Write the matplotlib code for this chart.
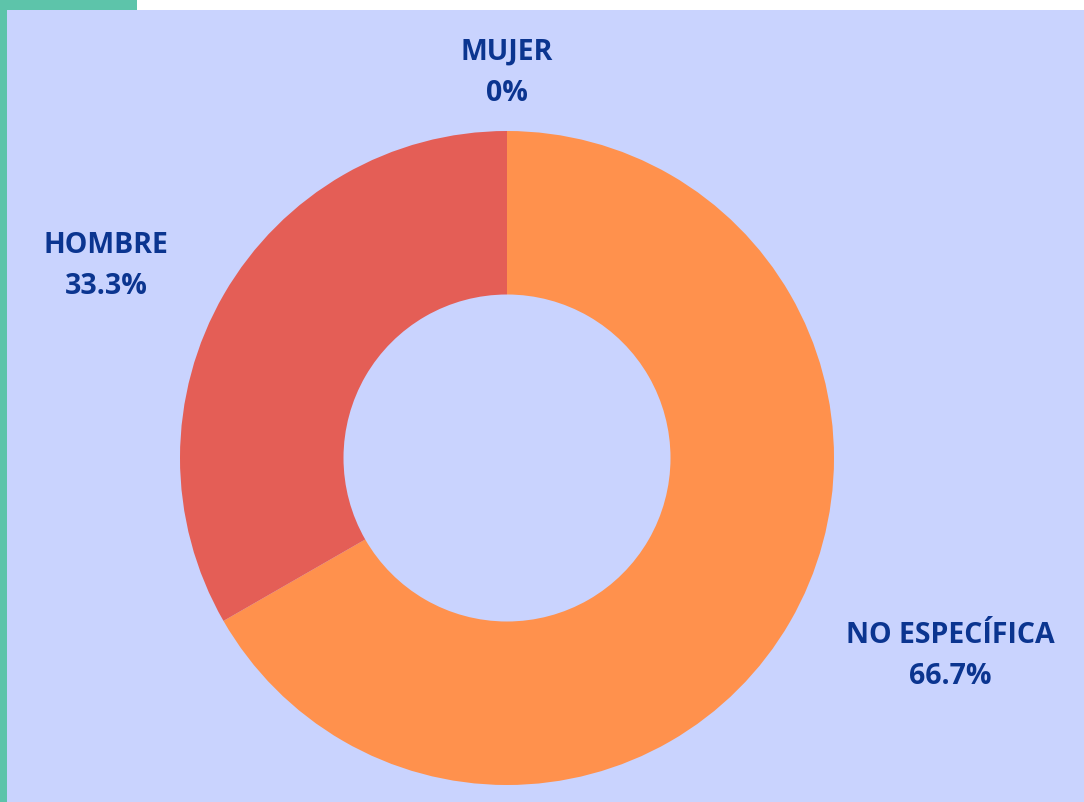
import matplotlib
matplotlib.use("Agg")
import matplotlib.pyplot as plt
from matplotlib.patches import Rectangle

categories = ["NO ESPECÍFICA", "HOMBRE", "MUJER"]
values = [66.7, 33.3, 0.0]
pct_labels = ["66.7%", "33.3%", "0%"]
colors = ["#FF914D", "#E45E56", "#E45E56"]

W, H = 1084, 803
fig = plt.figure(figsize=(W / 100, H / 100), dpi=100)
fig.patch.set_facecolor("white")
ax = fig.add_axes([0, 0, 1, 1])
ax.set_xlim(0, W)
ax.set_ylim(0, H)
ax.set_aspect("equal")
ax.axis("off")

# background panel and green accents
ax.add_patch(Rectangle((0, 0), W, H - 11, facecolor="#C9D3FE", edgecolor="none", zorder=0))
ax.add_patch(Rectangle((0, 0), 7, H, facecolor="#5DC4AA", edgecolor="none", zorder=1))
ax.add_patch(Rectangle((0, H - 11), 137, 11, facecolor="#5DC4AA", edgecolor="none", zorder=1))

cx, cy, R = 507, H - 459, 327
ax.pie(values, colors=colors, startangle=90, counterclock=False,
       center=(cx, cy), radius=R, frame=True,
       wedgeprops=dict(width=R * 0.5, edgecolor="none"))
ax.set_xlim(0, W)
ax.set_ylim(0, H)
ax.axis("off")

label_pos = [(950, H - 656), (106, H - 266), (507, H - 73)]
for cat, pct, (x, y) in zip(categories, pct_labels, label_pos):
    ax.text(x, y, f"{cat}\n{pct}", ha="center", va="center", fontsize=20.5,
            fontweight="bold", family="Open Sans", color="#0B3590",
            linespacing=1.55, zorder=5)

fig.savefig("out.png", dpi=100, facecolor=fig.get_facecolor())
